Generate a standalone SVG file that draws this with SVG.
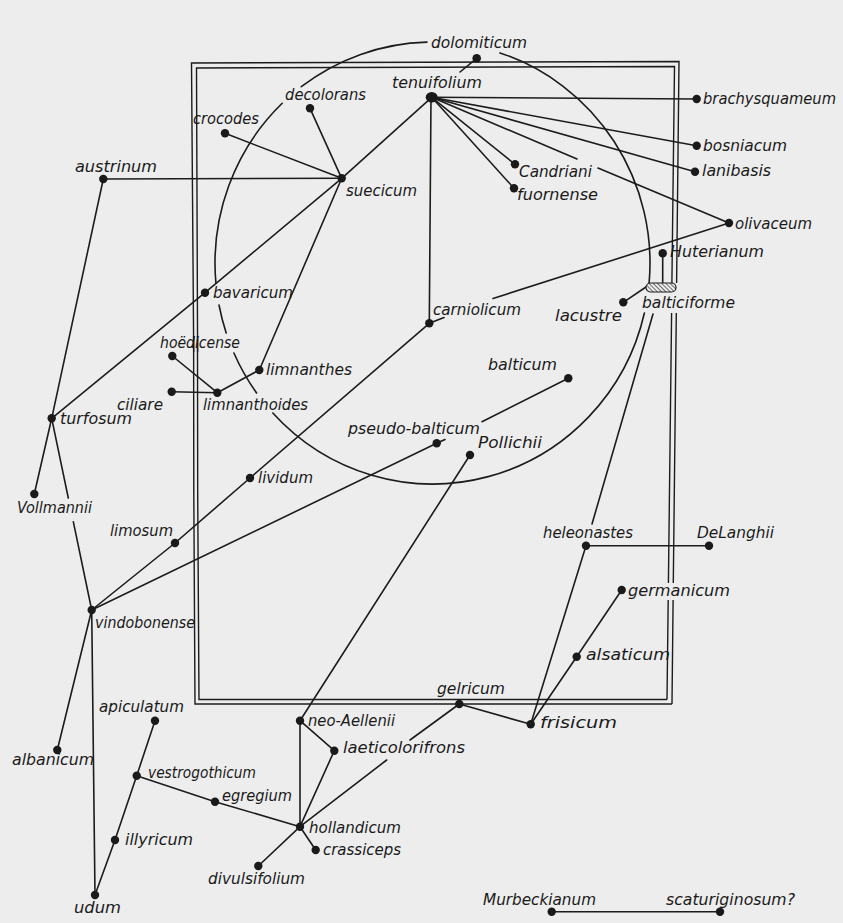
<svg xmlns="http://www.w3.org/2000/svg" width="843" height="923" viewBox="0 0 843 923">
<style>
.bg{fill:#ededed}
.ln{fill:none;stroke:#1c1c1c;stroke-width:1.6;stroke-linecap:round}
.fr{fill:none;stroke:#1c1c1c;stroke-width:1.4}
.dot{fill:#1a1a1a}
.lbl{font-family:"DejaVu Sans","Liberation Sans",sans-serif;font-style:oblique;font-size:15px;fill:#1a1a1a}
</style>
<defs>
<pattern id="hatch" width="3" height="3" patternUnits="userSpaceOnUse" patternTransform="rotate(-45)">
<rect width="3" height="3" fill="#ededed"/>
<line x1="0" y1="0" x2="0" y2="3" stroke="#222" stroke-width="1.3"/>
</pattern>
</defs>
<rect class="bg" x="0" y="0" width="843" height="923"/>

<g id="frame">
<path class="fr" d="M672,704 L195,704 L193.8,494 M193.7,352 L191.5,63 L679,61.5 L676.6,283 M676.3,313 L673.3,583 M673.1,600 L672,704"/>
<path class="fr" d="M667,699.5 L199,699.5 L197.7,494 M197.6,352 L196.5,68 L674.5,66.5 L671.9,283 M671.6,313 L668.4,583 M668.2,600 L667,699.5"/>
<path class="fr" d="M193.8,494 L193.6,336 M197.7,494 L197.5,336"/>
</g>

<g id="connectors">
<path class="ln" d="M427,42.1 A217.5,221 0 0 0 301.3,86.7"/>
<path class="ln" d="M282.2,103.3 A217.5,221 0 0 0 215.9,283"/>
<path class="ln" d="M219,305 A217.5,221 0 0 0 226.2,333"/>
<path class="ln" d="M233.9,353 A217.5,221 0 0 0 256.6,393"/>
<path class="ln" d="M272.8,413 A217.5,221 0 0 0 644.4,313"/>
<path class="ln" d="M500,52.9 A217.5,221 0 0 1 649.1,283"/>
<line class="ln" x1="431.7" y1="97.3" x2="696.7" y2="99"/>
<line class="ln" x1="431.7" y1="97.3" x2="696.7" y2="145.7"/>
<line class="ln" x1="431.7" y1="97.3" x2="695" y2="171.7"/>
<line class="ln" x1="431.7" y1="97.3" x2="577" y2="159"/>
<line class="ln" x1="598" y1="168" x2="729" y2="223"/>
<line class="ln" x1="431.7" y1="97.3" x2="515" y2="164.3"/>
<line class="ln" x1="431.7" y1="97.3" x2="514" y2="188.3"/>
<line class="ln" x1="431" y1="97.3" x2="429.3" y2="323.3"/>
<line class="ln" x1="431.7" y1="97.3" x2="341.7" y2="178.3"/>
<line class="ln" x1="476.7" y1="58.3" x2="460" y2="72"/>
<line class="ln" x1="310" y1="108.3" x2="341.7" y2="178.3"/>
<line class="ln" x1="225" y1="133.3" x2="341.7" y2="178.3"/>
<line class="ln" x1="103.3" y1="179" x2="341.7" y2="178.3"/>
<line class="ln" x1="341.7" y1="178.3" x2="205" y2="292.7"/>
<line class="ln" x1="205" y1="292.7" x2="51.7" y2="418.3"/>
<line class="ln" x1="341.7" y1="178.3" x2="259.3" y2="370"/>
<line class="ln" x1="259.3" y1="370" x2="217.3" y2="392.7"/>
<line class="ln" x1="172.3" y1="356" x2="217.3" y2="392.7"/>
<line class="ln" x1="171.7" y1="391.7" x2="217.3" y2="392.7"/>
<line class="ln" x1="51.7" y1="418.3" x2="103.3" y2="179"/>
<line class="ln" x1="51.7" y1="418.3" x2="34.3" y2="494"/>
<line class="ln" x1="51.7" y1="418.3" x2="68.3" y2="498"/>
<line class="ln" x1="73.3" y1="521.7" x2="91.7" y2="610"/>
<polyline class="ln" points="91.7,610 175,543 250,478 429.3,323.3"/>
<line class="ln" x1="91.7" y1="610" x2="436.7" y2="443.3"/>
<line class="ln" x1="436.7" y1="443.3" x2="445" y2="439.5"/>
<line class="ln" x1="482" y1="421.7" x2="568.3" y2="378.3"/>
<line class="ln" x1="429.3" y1="323.3" x2="444" y2="317.5"/>
<line class="ln" x1="493" y1="298.5" x2="729" y2="223"/>
<line class="ln" x1="470" y1="455" x2="300" y2="720.7"/>
<line class="ln" x1="91.7" y1="610" x2="57.3" y2="750"/>
<line class="ln" x1="91.7" y1="610" x2="95" y2="895"/>
<polyline class="ln" points="155,720.7 136.7,775.7 115,840 95,895"/>
<polyline class="ln" points="136.7,775.7 215,801.7 300,826.7"/>
<line class="ln" x1="300" y1="826.7" x2="258.3" y2="866"/>
<line class="ln" x1="300" y1="826.7" x2="315.7" y2="850"/>
<line class="ln" x1="300" y1="826.7" x2="300" y2="720.7"/>
<line class="ln" x1="300" y1="720.7" x2="334.3" y2="750.7"/>
<line class="ln" x1="334.3" y1="750.7" x2="300" y2="826.7"/>
<line class="ln" x1="459.3" y1="704" x2="410" y2="740"/>
<line class="ln" x1="386.7" y1="760" x2="300" y2="826.7"/>
<line class="ln" x1="459.3" y1="704" x2="530.7" y2="724.3"/>
<line class="ln" x1="586" y1="545.7" x2="530.7" y2="724.3"/>
<polyline class="ln" points="621.7,590 576.7,656.7 530.7,724.3"/>
<line class="ln" x1="586" y1="545.7" x2="709" y2="545.7"/>
<line class="ln" x1="653" y1="314" x2="592" y2="524"/>
<line class="ln" x1="623.3" y1="302.3" x2="646" y2="287"/>
<line class="ln" x1="662.7" y1="253.3" x2="662.7" y2="283"/>
<line class="ln" x1="551.7" y1="911.7" x2="720" y2="911.7"/>
</g>

<g id="n-dolomiticum"><circle class="dot" cx="476.7" cy="58.3" r="4.3"/><text class="lbl" x="431" y="48" textLength="96" lengthAdjust="spacingAndGlyphs">dolomiticum</text></g>
<g id="n-tenuifolium"><ellipse class="dot" cx="431.7" cy="97.3" rx="6" ry="5.3"/><text class="lbl" x="392" y="88" textLength="90" lengthAdjust="spacingAndGlyphs">tenuifolium</text></g>
<g id="n-decolorans"><circle class="dot" cx="310" cy="108.3" r="4.2"/><text class="lbl" x="285" y="100" textLength="81" lengthAdjust="spacingAndGlyphs">decolorans</text></g>
<g id="n-crocodes"><circle class="dot" cx="225" cy="133.3" r="4.2"/><text class="lbl" x="193" y="124" textLength="66" lengthAdjust="spacingAndGlyphs">crocodes</text></g>
<g id="n-austrinum"><circle class="dot" cx="103.3" cy="179" r="4.2"/><text class="lbl" x="75" y="172" textLength="82" lengthAdjust="spacingAndGlyphs">austrinum</text></g>
<g id="n-suecicum"><circle class="dot" cx="341.7" cy="178.3" r="4.2"/><text class="lbl" x="346" y="196" textLength="71" lengthAdjust="spacingAndGlyphs">suecicum</text></g>
<g id="n-brachysquameum"><circle class="dot" cx="696.7" cy="99" r="4.2"/><text class="lbl" x="703" y="104" textLength="133" lengthAdjust="spacingAndGlyphs">brachysquameum</text></g>
<g id="n-bosniacum"><circle class="dot" cx="696.7" cy="145.7" r="4.2"/><text class="lbl" x="703" y="151" textLength="84" lengthAdjust="spacingAndGlyphs">bosniacum</text></g>
<g id="n-lanibasis"><circle class="dot" cx="695" cy="171.7" r="4.2"/><text class="lbl" x="702" y="176" textLength="69" lengthAdjust="spacingAndGlyphs">lanibasis</text></g>
<g id="n-candriani"><circle class="dot" cx="515" cy="164.3" r="4.2"/><text class="lbl" x="519" y="177" textLength="73" lengthAdjust="spacingAndGlyphs">Candriani</text></g>
<g id="n-fuornense"><circle class="dot" cx="514" cy="188.3" r="4.2"/><text class="lbl" x="517" y="200" textLength="81" lengthAdjust="spacingAndGlyphs">fuornense</text></g>
<g id="n-olivaceum"><circle class="dot" cx="729" cy="223" r="4.2"/><text class="lbl" x="735" y="229" textLength="77" lengthAdjust="spacingAndGlyphs">olivaceum</text></g>
<g id="n-huterianum"><circle class="dot" cx="662.7" cy="253.3" r="4.2"/><text class="lbl" x="670" y="257" textLength="94" lengthAdjust="spacingAndGlyphs">Huterianum</text></g>
<g id="n-balticiforme"><rect x="646" y="283" width="30" height="9" rx="4.5" fill="url(#hatch)" stroke="#1c1c1c" stroke-width="1.2"/><text class="lbl" x="642" y="308" textLength="93" lengthAdjust="spacingAndGlyphs">balticiforme</text></g>
<g id="n-lacustre"><circle class="dot" cx="623.3" cy="302.3" r="4.2"/><text class="lbl" x="555" y="321" textLength="67" lengthAdjust="spacingAndGlyphs">lacustre</text></g>
<g id="n-carniolicum"><circle class="dot" cx="429.3" cy="323.3" r="4.2"/><text class="lbl" x="433" y="315" textLength="88" lengthAdjust="spacingAndGlyphs">carniolicum</text></g>
<g id="n-balticum"><circle class="dot" cx="568.3" cy="378.3" r="4.2"/><text class="lbl" x="488" y="370" textLength="69" lengthAdjust="spacingAndGlyphs">balticum</text></g>
<g id="n-pseudo-balticum"><circle class="dot" cx="436.7" cy="443.3" r="4.2"/><text class="lbl" x="348" y="434" textLength="132" lengthAdjust="spacingAndGlyphs">pseudo-balticum</text></g>
<g id="n-pollichii"><circle class="dot" cx="470" cy="455" r="4.2"/><text class="lbl" x="478" y="448" textLength="64" lengthAdjust="spacingAndGlyphs">Pollichii</text></g>
<g id="n-bavaricum"><circle class="dot" cx="205" cy="292.7" r="4.2"/><text class="lbl" x="213" y="298" textLength="80" lengthAdjust="spacingAndGlyphs">bavaricum</text></g>
<g id="n-hoedicense"><circle class="dot" cx="172.3" cy="356" r="4.2"/><text class="lbl" x="160" y="348" textLength="80" lengthAdjust="spacingAndGlyphs">hoëdicense</text></g>
<g id="n-limnanthes"><circle class="dot" cx="259.3" cy="370" r="4.2"/><text class="lbl" x="266" y="375" textLength="86" lengthAdjust="spacingAndGlyphs">limnanthes</text></g>
<g id="n-ciliare"><circle class="dot" cx="171.7" cy="391.7" r="4.2"/><text class="lbl" x="117" y="410" textLength="46" lengthAdjust="spacingAndGlyphs">ciliare</text></g>
<g id="n-limnanthoides"><circle class="dot" cx="217.3" cy="392.7" r="4.2"/><text class="lbl" x="203" y="410" textLength="105" lengthAdjust="spacingAndGlyphs">limnanthoides</text></g>
<g id="n-turfosum"><circle class="dot" cx="51.7" cy="418.3" r="4.2"/><text class="lbl" x="60" y="424" textLength="72" lengthAdjust="spacingAndGlyphs">turfosum</text></g>
<g id="n-vollmannii"><circle class="dot" cx="34.3" cy="494" r="4.2"/><text class="lbl" x="17" y="513" textLength="75" lengthAdjust="spacingAndGlyphs">Vollmannii</text></g>
<g id="n-lividum"><circle class="dot" cx="250" cy="478" r="4.2"/><text class="lbl" x="258" y="483" textLength="55" lengthAdjust="spacingAndGlyphs">lividum</text></g>
<g id="n-limosum"><circle class="dot" cx="175" cy="543" r="4.2"/><text class="lbl" x="110" y="536" textLength="63" lengthAdjust="spacingAndGlyphs">limosum</text></g>
<g id="n-vindobonense"><circle class="dot" cx="91.7" cy="610" r="4.2"/><text class="lbl" x="95" y="628" textLength="100" lengthAdjust="spacingAndGlyphs">vindobonense</text></g>
<g id="n-heleonastes"><circle class="dot" cx="586" cy="545.7" r="4.2"/><text class="lbl" x="543" y="538" textLength="90" lengthAdjust="spacingAndGlyphs">heleonastes</text></g>
<g id="n-delanghii"><circle class="dot" cx="709" cy="545.7" r="4.2"/><text class="lbl" x="697" y="538" textLength="77" lengthAdjust="spacingAndGlyphs">DeLanghii</text></g>
<g id="n-germanicum"><circle class="dot" cx="621.7" cy="590" r="4.2"/><text class="lbl" x="628" y="596" textLength="102" lengthAdjust="spacingAndGlyphs">germanicum</text></g>
<g id="n-alsaticum"><circle class="dot" cx="576.7" cy="656.7" r="4.2"/><text class="lbl" x="586" y="660" textLength="84" lengthAdjust="spacingAndGlyphs">alsaticum</text></g>
<g id="n-gelricum"><circle class="dot" cx="459.3" cy="704" r="4.2"/><text class="lbl" x="437" y="694" textLength="68" lengthAdjust="spacingAndGlyphs">gelricum</text></g>
<g id="n-frisicum"><circle class="dot" cx="530.7" cy="724.3" r="4.2"/><text class="lbl" x="540" y="728" textLength="77" lengthAdjust="spacingAndGlyphs">frisicum</text></g>
<g id="n-neo-aellenii"><circle class="dot" cx="300" cy="720.7" r="4.2"/><text class="lbl" x="308" y="726" textLength="87" lengthAdjust="spacingAndGlyphs">neo-Aellenii</text></g>
<g id="n-laeticolorifrons"><circle class="dot" cx="334.3" cy="750.7" r="4.2"/><text class="lbl" x="343" y="753" textLength="122" lengthAdjust="spacingAndGlyphs">laeticolorifrons</text></g>
<g id="n-hollandicum"><circle class="dot" cx="300" cy="826.7" r="4.2"/><text class="lbl" x="309" y="833" textLength="92" lengthAdjust="spacingAndGlyphs">hollandicum</text></g>
<g id="n-crassiceps"><circle class="dot" cx="315.7" cy="850" r="4.2"/><text class="lbl" x="323" y="855" textLength="78" lengthAdjust="spacingAndGlyphs">crassiceps</text></g>
<g id="n-divulsifolium"><circle class="dot" cx="258.3" cy="866" r="4.2"/><text class="lbl" x="208" y="884" textLength="97" lengthAdjust="spacingAndGlyphs">divulsifolium</text></g>
<g id="n-apiculatum"><circle class="dot" cx="155" cy="720.7" r="4.2"/><text class="lbl" x="99" y="712" textLength="85" lengthAdjust="spacingAndGlyphs">apiculatum</text></g>
<g id="n-vestrogothicum"><circle class="dot" cx="136.7" cy="775.7" r="4.2"/><text class="lbl" x="148" y="778" textLength="108" lengthAdjust="spacingAndGlyphs">vestrogothicum</text></g>
<g id="n-egregium"><circle class="dot" cx="215" cy="801.7" r="4.2"/><text class="lbl" x="222" y="801" textLength="70" lengthAdjust="spacingAndGlyphs">egregium</text></g>
<g id="n-illyricum"><circle class="dot" cx="115" cy="840" r="4.2"/><text class="lbl" x="125" y="845" textLength="68" lengthAdjust="spacingAndGlyphs">illyricum</text></g>
<g id="n-udum"><circle class="dot" cx="95" cy="895" r="4.2"/><text class="lbl" x="74" y="913" textLength="47" lengthAdjust="spacingAndGlyphs">udum</text></g>
<g id="n-albanicum"><circle class="dot" cx="57.3" cy="750" r="4.2"/><text class="lbl" x="12" y="765" textLength="82" lengthAdjust="spacingAndGlyphs">albanicum</text></g>
<g id="n-murbeckianum"><circle class="dot" cx="551.7" cy="911.7" r="4.2"/><text class="lbl" x="483" y="905" textLength="113" lengthAdjust="spacingAndGlyphs">Murbeckianum</text></g>
<g id="n-scaturiginosum"><circle class="dot" cx="720" cy="911.7" r="4.2"/><text class="lbl" x="666" y="905" textLength="129" lengthAdjust="spacingAndGlyphs">scaturiginosum?</text></g>
</svg>
